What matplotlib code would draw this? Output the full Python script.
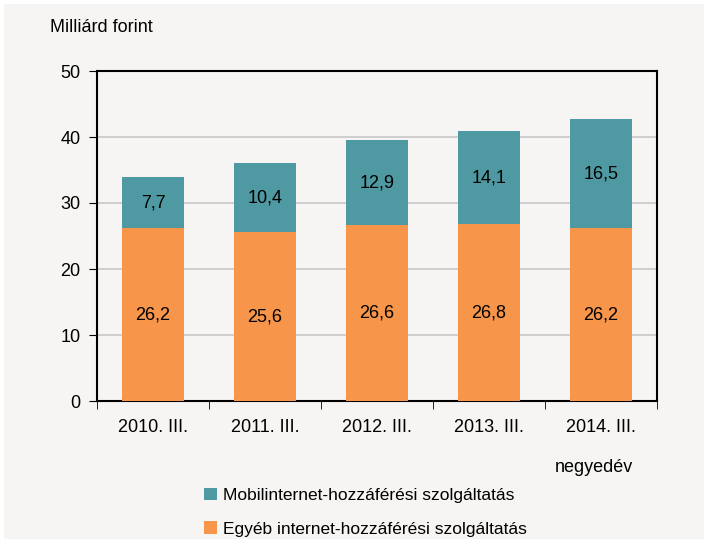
import numpy as np
import matplotlib.pyplot as plt
from matplotlib.patches import Rectangle

plt.rcParams['font.family'] = ['Liberation Sans', 'DejaVu Sans']

quarters = ['2010. III.', '2011. III.', '2012. III.', '2013. III.', '2014. III.']
egyeb = [26.2, 25.6, 26.6, 26.8, 26.2]
mobil = [7.7, 10.4, 12.9, 14.1, 16.5]

orange = '#f7964a'
teal = '#4f9aa2'
bg = '#f6f5f3'

fig = plt.figure(figsize=(7.07, 5.42), dpi=100, facecolor=bg)
ax = fig.add_axes([97/707, 1 - 401/542, 560/707, 330/542])
ax.set_facecolor(bg)
fig.patches.append(Rectangle((0, 0), 1, 1, transform=fig.transFigure,
                             fill=False, edgecolor='white', lw=5))

x = np.arange(len(quarters))
b1 = ax.bar(x, egyeb, width=0.55, color=orange, zorder=3)
b2 = ax.bar(x, mobil, width=0.55, bottom=egyeb, color=teal, zorder=3)

for i in range(len(x)):
    ax.text(x[i], egyeb[i] / 2, f'{egyeb[i]:.1f}'.replace('.', ','),
            ha='center', va='center', fontsize=13, zorder=4)
    ax.text(x[i], egyeb[i] + mobil[i] / 2, f'{mobil[i]:.1f}'.replace('.', ','),
            ha='center', va='center', fontsize=13, zorder=4)

ax.set_xlim(-0.5, 4.5)
ax.set_ylim(0, 50)
ax.set_yticks([0, 10, 20, 30, 40, 50])
ax.tick_params(axis='y', labelsize=13, length=6, direction='out', pad=6)
ax.set_xticks(x)
ax.set_xticklabels(quarters)
ax.tick_params(axis='x', which='major', length=0, labelsize=13, pad=13)
ax.set_xticks(np.arange(-0.5, 5, 1), minor=True)
ax.tick_params(axis='x', which='minor', length=6, direction='out')
ax.yaxis.grid(True, color='#c8c8c8', lw=1.2, zorder=0)
for s in ax.spines.values():
    s.set_linewidth(1.5)
    s.set_color('black')

fig.text(50/707, 1 - 27/542, 'Milliárd forint', fontsize=13, va='center')
fig.text(555/707, 1 - 467/542, 'negyedév', fontsize=13, va='center')

ax.legend([b2, b1], ['Mobilinternet-hozzáférési szolgáltatás', 'Egyéb internet-hozzáférési szolgáltatás'],
          loc='upper left', bbox_to_anchor=(188/707, 1 - 472/542), bbox_transform=fig.transFigure,
          frameon=False, fontsize=12.5, handlelength=0.75, handleheight=0.75, handletextpad=0.35,
          labelspacing=1.05)

plt.savefig('out.png', dpi=100, facecolor=bg)
